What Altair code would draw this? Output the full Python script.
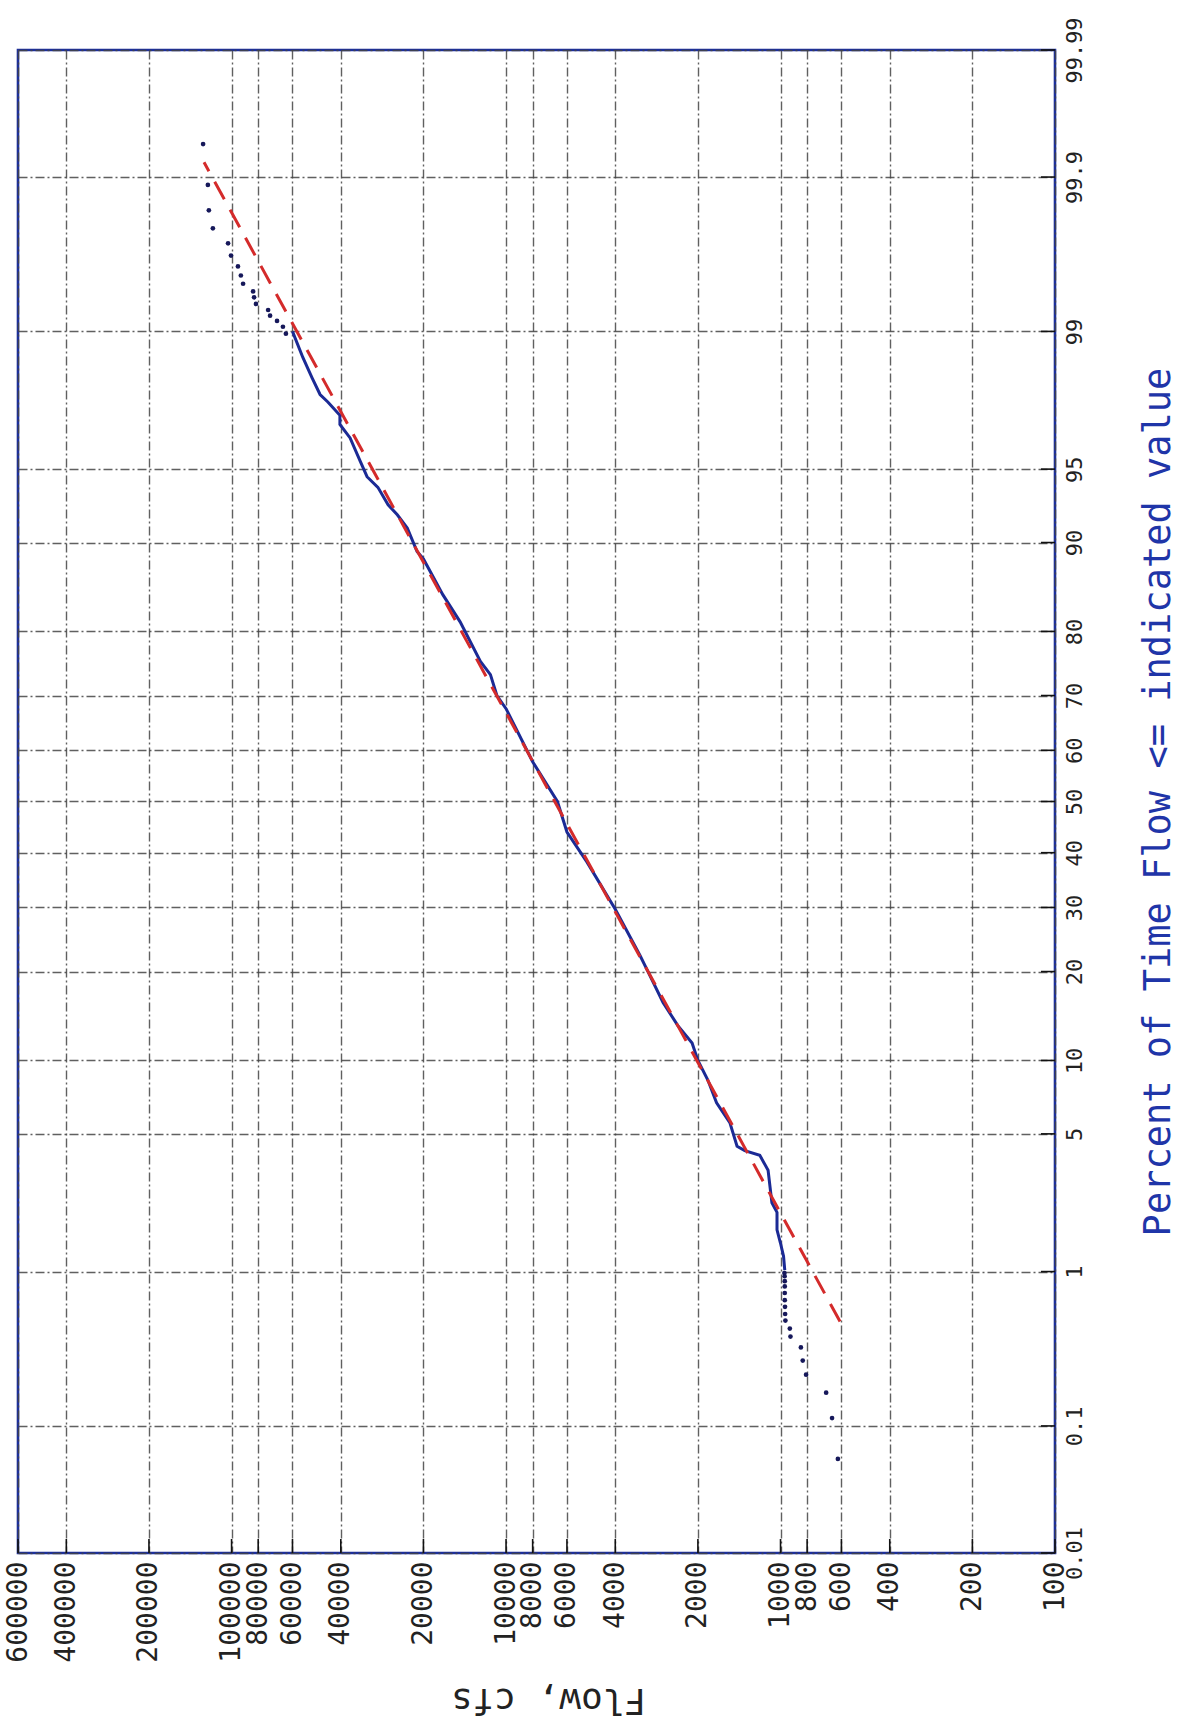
import altair as alt
import pandas as pd
from statistics import NormalDist

# Flow-duration curve: percent of time flow <= value, flow in cfs
line_pct = [1.02, 1.22, 1.44, 1.7, 2.1, 2.35, 3.4, 4.0, 4.2, 4.4, 5.6, 6.8, 8.4,
            10.0, 11.6, 13.4, 16.0, 20.0, 22.3, 29.7, 38.2, 44.0, 50.0, 57.8,
            67.7, 70.0, 73.5, 75.6, 81.3, 84.7, 88.5, 89.2, 91.2, 92.2, 92.9,
            94.0, 94.6, 95.4, 96.4, 96.9, 97.2, 97.6, 97.8, 98.2, 98.6, 99.0]
line_flow = [965, 975, 1000, 1030, 1030, 1075, 1110, 1190, 1350, 1440, 1530, 1710, 1840,
             2000, 2100, 2370, 2680, 3040, 3250, 4000, 5070, 6000, 6500, 8000,
             10000, 10800, 11400, 12400, 14700, 17000, 20000, 21100, 22900, 24900, 26900,
             29300, 32100, 34000, 37000, 40300, 40300, 44600, 47600, 50900, 55000, 60000]

# Individual low-flow and high-flow points plotted as dots
low_pct = [0.98, 0.94, 0.88, 0.82, 0.75, 0.68, 0.62, 0.56, 0.51, 0.455, 0.405,
           0.345, 0.283, 0.228, 0.172, 0.114, 0.057]
low_flow = [968, 966, 965, 965, 965, 965, 963, 962, 960, 925, 920,
            843, 830, 807, 682, 649, 618]
high_pct = [98.97, 99.06, 99.13, 99.19, 99.25, 99.31, 99.37, 99.42, 99.48, 99.538,
            99.595, 99.655, 99.713, 99.772, 99.828, 99.886, 99.943]
high_flow = [63400, 65000, 68300, 72400, 73600, 81500, 82800, 83500, 90800, 92500,
             94800, 100500, 103000, 117000, 121000, 122000, 127000]

# Fitted log-normal line (end points)
fit_pct = [0.504, 99.922]
fit_flow = [607, 126000]

flow_ticks = [600000, 400000, 200000, 100000, 80000, 60000, 40000, 20000,
              10000, 8000, 6000, 4000, 2000, 1000, 800, 600, 400, 200, 100]
pct_ticks = [0.01, 0.1, 1, 5, 10, 20, 30, 40, 50, 60, 70, 80, 90, 95, 99, 99.9, 99.99]
pct_labels = ["0.01", "0.1", "1", "5", "10", "20", "30", "40", "50", "60", "70",
              "80", "90", "95", "99", "99.9", "99.99"]

W, H = 1037, 1503
FONT = "DejaVu Sans Mono"
BORDER = "#1c2f9c"

nd = NormalDist()


def zval(p):
    return nd.inv_cdf(p / 100.0)


z_ticks = [zval(p) for p in pct_ticks]
zmin, zmax = z_ticks[0], z_ticks[-1]

# Label expression mapping normal-score tick positions back to percentages
expr = "'" + pct_labels[-1] + "'"
for i in range(len(z_ticks) - 2, -1, -1):
    mid = (z_ticks[i] + z_ticks[i + 1]) / 2
    expr = f"datum.value < {mid:.4f} ? '{pct_labels[i]}' : ({expr})"


def frame(pcts, flows):
    return pd.DataFrame({"pct": pcts, "flow": flows, "z": [zval(p) for p in pcts]})


line_df = frame(line_pct, line_flow)
dots_df = pd.concat([frame(low_pct, low_flow), frame(high_pct, high_flow)])
fit_df = frame(fit_pct, fit_flow)
xtick_df = pd.DataFrame({"flow": flow_ticks})
ytick_df = pd.DataFrame({"z": z_ticks})

xscale = alt.Scale(type="log", domain=[100, 600000], reverse=True, nice=False)
yscale = alt.Scale(domain=[zmin, zmax], nice=False, zero=False)

x_axis = alt.Axis(
    values=flow_ticks, format="d", labelAngle=270, labelAlign="right",
    labelBaseline="middle", labelPadding=8, labelFont=FONT, labelFontSize=28,
    labelColor="#222222", labelOverlap=False, labelFlush=False, labelBound=False,
    ticks=False, domain=False,
    grid=True, gridColor="#444444", gridDash=[9, 3, 2, 3], gridWidth=1.4,
    gridOpacity=0.85,
    title="Flow, cfs", titleFont=FONT, titleFontSize=36, titleFontWeight="normal",
    titleColor="#222222", titleAngle=180, titleAlign="center",
    titleBaseline="middle", titleX=530, titleY=146,
)
y_axis = alt.Axis(
    orient="right", values=z_ticks, labelExpr=expr, labelAngle=270,
    labelAlign="center", labelBaseline="top", labelPadding=9, labelFont=FONT,
    labelFontSize=22, labelColor="#222222", labelOverlap=False, labelFlush=False,
    labelBound=False, ticks=False, domain=False,
    grid=True, gridColor="#444444", gridDash=[9, 3, 2, 3], gridWidth=1.4,
    gridOpacity=0.85,
    title="Percent of Time Flow <= indicated value", titleFont=FONT,
    titleFontSize=37, titleFontWeight="normal", titleColor="#1f35a8",
    titleAngle=270, titleAlign="center", titleBaseline="middle",
    titleX=103, titleY=H / 2,
)

X = alt.X("flow:Q", scale=xscale, axis=x_axis)
Y = alt.Y("z:Q", scale=yscale, axis=y_axis)

curve = alt.Chart(line_df).mark_line(color="#1b2a95", strokeWidth=3).encode(
    x=X, y=Y, order=alt.Order("pct:Q"),
)

dots = alt.Chart(dots_df).mark_circle(size=22, color="#16185a", opacity=1).encode(
    x=X, y=Y,
)

fit = alt.Chart(fit_df).mark_line(color="#d42b2b", strokeWidth=3,
                                  strokeDash=[20, 12]).encode(
    x=X, y=Y, order=alt.Order("pct:Q"),
)

# Short solid tick marks drawn inside the frame
xticks = alt.Chart(xtick_df).mark_rule(color="#111111", strokeWidth=1.6).encode(
    x=X, y=alt.value(H - 14), y2=alt.value(H),
)
yticks = alt.Chart(ytick_df).mark_rule(color="#111111", strokeWidth=1.6).encode(
    y=Y, x=alt.value(W - 14), x2=alt.value(W),
)

chart = alt.layer(curve, xticks, yticks, fit, dots).properties(
    width=W, height=H,
    padding={"left": 18, "top": 50, "right": 137, "bottom": 172},
    autosize=alt.AutoSizeParams(type="none"),
    background="white",
).configure_view(stroke=BORDER, strokeWidth=2.6)

chart.save("out.html", embed_options={"renderer": "svg", "actions": False})
